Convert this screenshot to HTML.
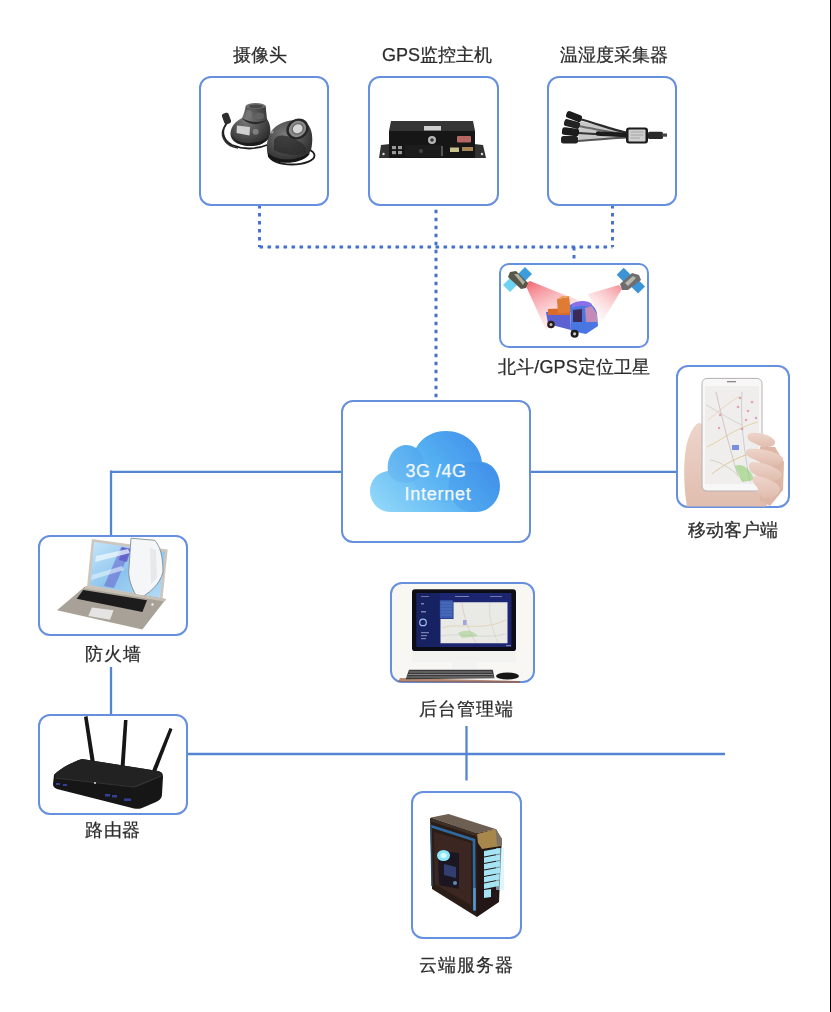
<!DOCTYPE html>
<html><head><meta charset="utf-8">
<style>
html,body{margin:0;padding:0;background:#fff;}
body{width:831px;height:1012px;position:relative;overflow:hidden;font-family:"Liberation Sans",sans-serif;}
.box{position:absolute;box-sizing:border-box;border:2.1px solid #6690de;border-radius:12px;background:#fff;}
.lbl{position:absolute;font-size:18px;color:#2c2c2c;white-space:nowrap;line-height:20px;-webkit-text-stroke:0.25px #2c2c2c;will-change:transform;}
svg.ln{position:absolute;left:0;top:0;}
.edge{position:absolute;right:0;top:0;width:1px;height:1012px;background:#000;}
.ctext{position:absolute;left:370px;width:132px;text-align:center;color:#f2f8ff;font-size:18px;line-height:22.6px;top:460px;letter-spacing:0.5px;-webkit-text-stroke:0.25px #f2f8ff;}
</style></head><body>
<svg class="ln" width="831" height="1012">
  <g stroke="#4572cc" stroke-width="3" stroke-dasharray="3.6 4.4" fill="none">
    <line x1="259.5" y1="205" x2="259.5" y2="247"/>
    <line x1="436" y1="209.7" x2="436" y2="401"/>
    <line x1="612.5" y1="205" x2="612.5" y2="247"/>
    <line x1="259.5" y1="247" x2="612.5" y2="247"/>
    <line x1="574" y1="247" x2="574" y2="264"/>
  </g>
  <g stroke="#5585d2" stroke-width="2.3" fill="none">
    <line x1="111" y1="471.8" x2="342" y2="471.8"/>
    <line x1="530" y1="471.8" x2="678" y2="471.8"/>
    <line x1="111" y1="470.5" x2="111" y2="536"/>
    <line x1="111" y1="667" x2="111" y2="715"/>
    <line x1="187" y1="754" x2="725" y2="754"/>
    <line x1="466.5" y1="726" x2="466.5" y2="780.5"/>
  </g>
</svg>
<div class="box" style="left:199.3px;top:76px;width:129.5px;height:130px"></div>
<div class="box" style="left:368.2px;top:75.8px;width:130.8px;height:130px"></div>
<div class="box" style="left:547px;top:75.8px;width:130px;height:130px"></div>
<div class="box" style="left:498.9px;top:262.9px;width:149.7px;height:85px;border-radius:10px"></div>
<div class="box" style="left:341px;top:400px;width:190px;height:143px"></div>
<div class="box" style="left:676.4px;top:365.3px;width:113.4px;height:142.6px"></div>
<div class="box" style="left:37.7px;top:534.6px;width:150.3px;height:101.6px"></div>
<div class="box" style="left:389.8px;top:582px;width:144.8px;height:101.2px;background:#f8f7f4"></div>
<div class="box" style="left:37.8px;top:713.5px;width:150.3px;height:101px"></div>
<div class="box" style="left:411.4px;top:791px;width:110.6px;height:148.2px"></div>

<svg class="ln" width="831" height="1012">
<defs>
  <filter id="soft" x="-10%" y="-10%" width="120%" height="120%"><feGaussianBlur stdDeviation="0.35"/></filter>
  <linearGradient id="cloudg" x1="0" y1="0.8" x2="1" y2="0.2">
    <stop offset="0" stop-color="#92d8f9"/>
    <stop offset="0.55" stop-color="#55b0f2"/>
    <stop offset="1" stop-color="#3c86e8"/>
  </linearGradient>
  <radialGradient id="camg" cx="0.4" cy="0.35" r="0.7">
    <stop offset="0" stop-color="#7a7a7a"/><stop offset="1" stop-color="#2a2a2a"/>
  </radialGradient>
  <radialGradient id="lensg" cx="0.45" cy="0.45" r="0.6">
    <stop offset="0" stop-color="#d8d8d8"/><stop offset="1" stop-color="#777"/>
  </radialGradient>
  <linearGradient id="beamL" x1="0" y1="0" x2="0.6" y2="1">
    <stop offset="0" stop-color="#f05a64" stop-opacity="0.95"/><stop offset="1" stop-color="#fbd0d4" stop-opacity="0.2"/>
  </linearGradient>
  <linearGradient id="beamR" x1="1" y1="0" x2="0.3" y2="1">
    <stop offset="0" stop-color="#f27a82" stop-opacity="0.85"/><stop offset="1" stop-color="#fde0e2" stop-opacity="0.15"/>
  </linearGradient>
  <linearGradient id="scrg" x1="0" y1="0" x2="1" y2="1">
    <stop offset="0" stop-color="#c7e6fa"/><stop offset="0.5" stop-color="#8cc4ee"/><stop offset="1" stop-color="#b6dcf5"/>
  </linearGradient>
  <linearGradient id="srvtop" x1="0" y1="0" x2="1" y2="1">
    <stop offset="0" stop-color="#6e5646"/><stop offset="1" stop-color="#a98a60"/>
  </linearGradient>
  <linearGradient id="skin" x1="0" y1="0" x2="0" y2="1">
    <stop offset="0" stop-color="#eed4ca"/><stop offset="1" stop-color="#e0bdae"/>
  </linearGradient>
</defs>

<!-- ===== Camera ===== -->
<g filter="url(#soft)">
  <!-- left camera cable -->
  <path d="M227 123 C221 130 222 140 232 145 C244 150 258 149 270 144" stroke="#1e1e1e" stroke-width="1.8" fill="none"/>
  <path d="M226 125 C218 134 224 146 238 148" stroke="#2a2a2a" stroke-width="1.3" fill="none"/>
  <rect x="223" y="113" width="7" height="11" rx="2" fill="#2e2e2e" transform="rotate(-20 226.5 118.5)"/>
  <path d="M245.7 106 C245 110 244 114 242 118 C236 121 231 126 230.5 133 C230 140 236 145 248 146 C260 146.5 268 142 270 135 C271 129 270 123 267 119 C266.5 114 266 110 265.7 106 Z" fill="url(#camg)"/>
  <path d="M231 135 C233 141 240 145 248 146 C260 146.5 268 142 270 135 C266 141 256 143 248 143 C240 143 234 140 231 135 Z" fill="#1c1c1c"/>
  <path d="M242 118 C250 123 262 123 267 119 C262 126 248 126 242 118 Z" fill="#2a2a2a"/>
  <ellipse cx="255.7" cy="106" rx="10" ry="3" fill="#707070"/>
  <ellipse cx="255.9" cy="106.4" rx="7" ry="1.9" fill="#4a4a4a"/>
  <ellipse cx="248.8" cy="114" rx="3" ry="4.2" fill="#7a7a7a" opacity="0.75"/>
  <ellipse cx="259.5" cy="116" rx="4.5" ry="3.3" fill="#666" opacity="0.8"/>
  <polygon points="237,125.5 250,127 249.5,135.5 236.5,133" fill="#cfcfcf"/>
  <circle cx="255.7" cy="131.8" r="3" fill="#7e7e7e"/>
  <!-- right camera -->
  <ellipse cx="292" cy="155.5" rx="22.5" ry="9" fill="none" stroke="#1c1c1c" stroke-width="1.8"/>
  <path d="M267 150 C266 140 270 130 278 125 C288 119 302 118 309 126 C313 132 313 142 311 150 C306 160 290 163 278 161 C271 159 267 155 267 150 Z" fill="url(#camg)"/>
  <path d="M267.5 152 C272 160 296 164 310 152 L309 155 C300 165 276 165 268 157 Z" fill="#121212"/>
  <path d="M274 140 C278 132 290 136 300 142 C306 146 308 150 304 154 C294 156 280 154 274 150 Z" fill="#2a2a2a" opacity="0.7"/>
  <ellipse cx="297.5" cy="129" rx="11.5" ry="10" fill="#262626" transform="rotate(-30 297.5 129)"/>
  <ellipse cx="297.5" cy="129" rx="9" ry="7.8" fill="#8a8a8a" transform="rotate(-30 297.5 129)"/>
  <ellipse cx="297.7" cy="128.8" rx="6.5" ry="5.6" fill="#6a6a6a" transform="rotate(-30 297.7 128.8)"/>
  <ellipse cx="297.7" cy="128.8" rx="5" ry="4.4" fill="#d6d6d6" transform="rotate(-30 297.7 128.8)"/>
  <circle cx="272" cy="132" r="1.5" fill="#9a9a9a"/>
</g>

<!-- ===== DVR ===== -->
<g filter="url(#soft)">
  <polygon points="381,145 390,144 390,158 379,158" fill="#333"/>
  <polygon points="474,144 483,145 486,158 474,158" fill="#333"/>
  <circle cx="383.5" cy="154" r="1.2" fill="#ddd"/>
  <circle cx="482" cy="154" r="1.2" fill="#ddd"/>
  <polygon points="391,121 473,121 475,131 389,131" fill="#343434"/>
  <rect x="389" y="131" width="86" height="27" fill="#141414"/>
  <rect x="424" y="126" width="17" height="4.5" fill="#d0d0d0"/>
  <rect x="457" y="136" width="14" height="6.5" rx="1" fill="#b86664"/>
  <circle cx="432" cy="140" r="4" fill="#b8b8b8"/>
  <circle cx="432" cy="140" r="1.8" fill="#333"/>
  <rect x="392" y="146" width="4" height="3.2" fill="#999"/>
  <rect x="398" y="146" width="4" height="3.2" fill="#999"/>
  <rect x="392" y="151" width="4" height="3.2" fill="#999"/>
  <rect x="398" y="151" width="4" height="3.2" fill="#999"/>
  <rect x="405" y="145" width="37" height="12" fill="#1f1f1f"/>
  <circle cx="421" cy="151" r="2" fill="#444"/>
  <rect x="441" y="146" width="2" height="10" fill="#555"/>
  <rect x="450" y="147.5" width="9" height="4.5" fill="#c9c28f"/>
  <rect x="462" y="147" width="11" height="4" fill="#a88458"/>
</g>

<!-- ===== Sensor cable ===== -->
<g filter="url(#soft)">
  <polygon points="580,121 628,132 628,138 578,141" fill="#c8c8c8"/>
  <g fill="none" stroke-linecap="round">
    <path d="M579 119 C596 123 612 130 628 133" stroke="#2a2a2a" stroke-width="2.2"/>
    <path d="M578 126 C596 129 612 133 628 134.5" stroke="#6a6a6a" stroke-width="2"/>
    <path d="M578 133 C596 134 612 135 628 136" stroke="#333" stroke-width="2"/>
    <path d="M577 141 C596 140 612 138 628 137.5" stroke="#555" stroke-width="2"/>
    <path d="M598 133.5 C610 134 620 135 628 135" stroke="#1e1e1e" stroke-width="4.5"/>
  </g>
  <rect x="566" y="113" width="16" height="7" rx="2.5" fill="#1a1a1a" transform="rotate(22 574 116.5)"/>
  <rect x="564" y="120.5" width="16" height="7" rx="2.5" fill="#222" transform="rotate(15 572 124)"/>
  <rect x="562" y="128" width="17" height="7.5" rx="2.5" fill="#1a1a1a" transform="rotate(7 570.5 131.7)"/>
  <rect x="561" y="136" width="17" height="7.5" rx="2.5" fill="#222" transform="rotate(0 569.5 139.7)"/>
  <rect x="626" y="127.4" width="22" height="16" rx="3" fill="#1a1a1a"/>
  <rect x="628.5" y="129.5" width="17" height="12" rx="1" fill="#d0d0d0"/>
  <g stroke="#888" stroke-width="0.6"><line x1="630.5" y1="132" x2="643.5" y2="132"/><line x1="630.5" y1="135" x2="643.5" y2="135"/><line x1="630.5" y1="138" x2="640" y2="138"/></g>
  <rect x="648" y="131.7" width="15" height="7.3" rx="1.5" fill="#2a2a2a"/>
  <rect x="662" y="133.5" width="5" height="3.2" fill="#444"/>
</g>

<!-- ===== Satellite + truck ===== -->
<g filter="url(#soft)">
  <polygon points="525,284 530,281 582,302 546,330" fill="url(#beamL)"/>
  <polygon points="622,289 619,285 588,294 602,322" fill="url(#beamR)"/>
  <!-- left satellite -->
  <polygon points="525,267 532,274 525,281 518,274" fill="#3d9ddc"/>
  <polygon points="510,278 517,285 510,292 503,285" fill="#6ed2f2"/>
  <polygon points="510,272 516,271 528,283 526,288 521,289 508,277" fill="#56564a"/>
  <polygon points="514,274 518,274 525,282 523,285" fill="#b0b0a0"/>
  <!-- right satellite -->
  <polygon points="623.7,267.8 630.7,274.8 623.7,281.8 616.7,274.8" fill="#3a94d6"/>
  <polygon points="638,279.5 645,286.5 638,293.5 631,286.5" fill="#3a94d6"/>
  <polygon points="620,284 632,273 639,275 641,280 628,290 622,290" fill="#6e6e6e"/>
  <polygon points="625,283 633,276 636,278 628,286" fill="#b8b8b0"/>
  <!-- truck -->
  <polygon points="546,312 570,311 571,330 548,324" fill="#5c62d2"/>
  <polygon points="548,309 570,308 570,315 548,315" fill="#d86a2a"/>
  <polygon points="557,299 569,297 571,312 558,314" fill="#e07a36"/>
  <polygon points="557,299 562,296 570,296 569,297" fill="#f2a060"/>
  <path d="M570 305 C574 302 580 301 585 302 C590 302 595 306 597 313 L598 326 L586 334 L571 331 Z" fill="#4a76e0"/>
  <path d="M572 304 C578 300 588 300 592 304 L590 307 C584 305 576 306 572 308 Z" fill="#8a70e8"/>
  <polygon points="573,310 582,309 582,322 573,322" fill="#3c2a58"/>
  <polygon points="585,308 592,306 597,314 597,322 586,322" fill="#c48ab8"/>
  <circle cx="551" cy="324.5" r="3.8" fill="#2a1a1a"/>
  <circle cx="551" cy="324.5" r="1.5" fill="#bbb"/>
  <circle cx="574.6" cy="333.8" r="4" fill="#1e1e1e"/>
  <circle cx="574.6" cy="333.8" r="1.6" fill="#ccc"/>
</g>

<!-- ===== Cloud ===== -->
<clipPath id="cloudclip"><path d="M391 512 C378 512 370 502 370 491 C370 480 378 472 388 471 C386 458 394 446 405 445 C410 445 413 446 416 448 C422 437 433 431 446 431 C464 431 480 444 482 462 C493 463 500 474 500 486 C500 500 490 512 476 512 Z"/></clipPath>
<g clip-path="url(#cloudclip)">
  <rect x="365" y="425" width="140" height="92" fill="url(#cloudg)"/>
  <circle cx="405" cy="464" r="19" fill="#2f7fe0" opacity="0.13"/>
  <circle cx="474" cy="487" r="25.5" fill="#2a6fe0" opacity="0.16"/>
  <circle cx="446" cy="467" r="36" fill="#4aa8f0" opacity="0.12"/>
</g>

<!-- ===== Phone in hand ===== -->
<g filter="url(#soft)">
  <path d="M686 448 C688 436 694 424 699 423 C704 423 705 430 704 440 L703 482 C712 489 740 490 766 492 C770 496 770 502 766 506.5 L687 506.5 C684 490 683 466 686 448 Z" fill="url(#skin)"/>
  <rect x="702" y="378.4" width="60" height="112.6" rx="5" fill="#f7f7f7" stroke="#b6b0ae" stroke-width="1"/>
  <rect x="705" y="386" width="54" height="98" fill="#efeeec"/>
  <rect x="727" y="381" width="9" height="1.3" fill="#888"/>
  <g stroke-width="0.8" fill="none" opacity="0.75">
    <path d="M708 420 C716 414 726 404 740 396" stroke="#e9c49a"/>
    <path d="M707 447 C720 441 735 428 758 422" stroke="#dcc070"/>
    <path d="M712 474 C722 466 738 456 756 452" stroke="#d0b060"/>
    <path d="M716 392 C722 418 728 442 738 476" stroke="#c0a8a8"/>
    <path d="M742 392 C740 420 744 450 750 482" stroke="#b0b8c8"/>
    <path d="M706 405 C716 410 730 420 742 425" stroke="#c8c0b8"/>
    <path d="M710 460 C722 462 734 470 744 482" stroke="#c8c0a8"/>
  </g>
  <g fill="#e07a90" opacity="0.65">
    <circle cx="740" cy="398" r="1.3"/><circle cx="752" cy="402" r="1.3"/><circle cx="748" cy="411" r="1.3"/>
    <circle cx="746" cy="420" r="1.3"/><circle cx="756" cy="418" r="1.3"/><circle cx="742" cy="429" r="1.3"/>
    <circle cx="738" cy="407" r="1.3"/><circle cx="720" cy="415" r="1.2"/><circle cx="719" cy="428" r="1.2"/>
  </g>
  <rect x="732" y="445" width="7" height="5" fill="#4f6fd8" opacity="0.75"/>
  <path d="M735 466 C742 462 752 470 754 480 L742 482 Z" fill="#8fcf6f" opacity="0.6"/>
  <path d="M760 447 L775 447 L784 462 L783 490 L770 506 L760 500 Z" fill="#ddb6a6"/>
  <path d="M751 433 C762 432 772 436 775 441 C776 446 770 448 762 447 L752 442 C746 440 746 434 751 433 Z" fill="url(#skin)"/>
  <path d="M749 449 C762 448 778 452 783 458 C784 464 776 466 766 465 L751 458 C745 456 744 450 749 449 Z" fill="url(#skin)"/>
  <path d="M752 462 C764 462 778 467 782 474 C782 480 774 482 764 480 L754 474 C748 471 747 463 752 462 Z" fill="url(#skin)"/>
  <path d="M755 476 C766 477 778 482 780 489 C779 496 770 500 762 498 L757 487 C752 483 751 477 755 476 Z" fill="url(#skin)"/>
</g>

<!-- ===== Laptop ===== -->
<g filter="url(#soft)">
  <polygon points="91.9,539 167.7,549.5 162.3,601 87,587" fill="#cdc6bd"/>
  <polygon points="94,542 165,552 160,598 90,585" fill="url(#scrg)"/>
  <polygon points="121,547 131,549 114,588 104,586" fill="#6a6ad0" opacity="0.6"/>
  <polygon points="122,547 131,549 127,562 119,560" fill="#5a50c8" opacity="0.7"/>
  <polygon points="96,556 128,549 130,553 95,562" fill="#eef8fe" opacity="0.75"/>
  <polygon points="92,575 122,566 124,570 91,580" fill="#e4f4fc" opacity="0.6"/>
  <path d="M131 538.2 L154.7 540.3 C160 546 163 556 163 572 C160 585 148 594 138.5 599 C133 591 129 582 128.7 572 Z" fill="#f5f6f7" stroke="#7a8c98" stroke-width="0.9"/>
  <path d="M150 548 L156 550 L157 578 L151 584 Z" fill="#e6e8ea"/>
  <polygon points="85,586.5 166,599 142.4,629.5 57,610.3" fill="#a8a197"/>
  <polygon points="86,586 166,599 165,601.5 84,588.5" fill="#c6c0b6"/>
  <polygon points="83.2,590.1 147,600.2 142.4,612 76.7,598.8" fill="#1c1a1c"/>
  <polygon points="91.9,607.4 113.5,610.3 110,619.7 88.3,616.1" fill="#e6e4e2"/>
  <circle cx="152.5" cy="604.5" r="1.2" fill="#eee"/>
</g>

<!-- ===== Monitor ===== -->
<g filter="url(#soft)">
  <rect x="412" y="589.2" width="104" height="62" rx="3" fill="#0c0c14"/>
  <rect x="416.5" y="593" width="95" height="54" fill="#1b2570"/>
  <rect x="416.5" y="593" width="23" height="54" fill="#182262"/>
  <g fill="#c8d0f0" opacity="0.55">
    <rect x="421" y="596" width="8" height="0.9"/><rect x="455" y="596" width="14" height="1"/><rect x="490" y="596" width="12" height="0.9"/>
    <rect x="421" y="603" width="3" height="1.5"/><rect x="421" y="611" width="5" height="1.5"/>
    <rect x="421" y="632" width="8" height="1.2"/><rect x="421" y="635" width="6" height="1.2"/><rect x="421" y="638" width="5" height="1.2"/>
    <rect x="506" y="645" width="5" height="1.2"/>
  </g>
  <circle cx="423" cy="622.4" r="3.3" fill="none" stroke="#a6b8f2" stroke-width="1.2"/>
  <rect x="439.9" y="600.3" width="13" height="18.2" fill="#3a5cb0"/>
  <g stroke="#6a88cc" stroke-width="0.5">
    <line x1="441" y1="603" x2="452" y2="603"/><line x1="441" y1="606" x2="452" y2="606"/><line x1="441" y1="609" x2="452" y2="609"/><line x1="441" y1="612" x2="452" y2="612"/><line x1="441" y1="615" x2="452" y2="615"/>
  </g>
  <polygon points="453.5,602.2 507.5,602.2 507.5,643.2 440.5,643.2 440.5,619.1 453.5,619.1" fill="#e9e9e5"/>
  <g stroke-width="0.6" fill="none" opacity="0.6">
    <path d="M442 628 C458 622 482 632 506 620" stroke="#d8b070"/>
    <path d="M462 603 C464 620 470 632 476 643" stroke="#d4a0a0"/>
    <path d="M441 636 C460 632 482 640 506 634" stroke="#b8b8c8"/>
    <path d="M490 603 C488 615 492 628 498 643" stroke="#c8c0a0"/>
  </g>
  <rect x="463" y="620" width="3.5" height="5" fill="#6a78d8" opacity="0.6"/>
  <path d="M458 633 C466 629 474 631 478 636 L462 638 Z" fill="#9cd08a" opacity="0.55"/>
  <rect x="412.5" y="651" width="103" height="11" fill="#f2f2f0"/>
  <rect x="452" y="662" width="25" height="7" fill="#f3f3f1"/>
  <polygon points="400,678 520,681 520,683 398,682" fill="#9a5a38" opacity="0.7"/>
  <polygon points="409,669.8 492.8,669.8 494.5,678.3 405.7,679.2" fill="#3a3a3a"/>
  <g stroke="#a0a0a0" stroke-width="0.8" opacity="0.9">
    <line x1="409" y1="672" x2="492" y2="672"/><line x1="408" y1="674.5" x2="493" y2="674.5"/><line x1="407" y1="677" x2="494" y2="677"/>
  </g>
  <ellipse cx="507.5" cy="676" rx="11.5" ry="3.6" fill="#151515"/>
</g>

<!-- ===== Router ===== -->
<g filter="url(#soft)">
  <polygon points="84,717 87.5,716 95,763 91,764" fill="#141414"/>
  <polygon points="124,720 127.5,720 124.5,768 120.5,768" fill="#141414"/>
  <polygon points="169.5,728 172.5,729 156,772 152,771" fill="#141414"/>
  <path d="M54 775 C58 770 72 762 82 759 L158 771 C162 772 163 774 163 777 L162 794 C162 798 160 800 156 802 L142 808 C139 809 137 809 134 808.5 L57 789 C54 788 53 786 53 784 Z" fill="#181818"/>
  <path d="M54 775 C58 770 72 762 82 759 L158 771 C162 772 163 774 162 776 L140 786 C138 787 136 787 134 786.5 L57 778 Z" fill="#242424"/>
  <path d="M55 778 L134 787 L161 776" stroke="#3a3a3a" stroke-width="0.8" fill="none"/>
  <circle cx="95" cy="783" r="1" fill="#ddd"/>
  <g fill="#3548b0" opacity="0.85">
    <rect x="56" y="783" width="4" height="2"/><rect x="63" y="784" width="4" height="2"/>
    <rect x="105" y="794" width="5" height="2.5"/><rect x="112" y="795" width="5" height="2.5"/><rect x="124" y="798.5" width="7" height="2.5"/>
  </g>
</g>

<!-- ===== Server ===== -->
<g filter="url(#soft)">
  <!-- side panel -->
  <polygon points="430,818 477,833 477,917 432,889" fill="#2c1f19"/>
  <!-- front face -->
  <polygon points="477,833 496,829 502,840 501.5,846 499,902 477,917" fill="#221712"/>
  <!-- top face -->
  <polygon points="431,817.5 448.5,814 495.6,828.9 476,833.5" fill="#6e5e52"/>
  <polygon points="431,817.5 476,833.5 477,836.5 431,821.5" fill="#3e2e26"/>
  <!-- golden corner -->
  <polygon points="477,834 495.6,829 502,839 501,846 482,849 478,843" fill="#a8874e"/>
  <polygon points="495.6,829 502,839 501,846 497,845" fill="#7a7268"/>
  <!-- blue trim frame -->
  <path d="M430.5 826 L474 840 L474.5 911" stroke="#2f6aa0" stroke-width="2.6" fill="none"/>
  <path d="M431 826 L432 886" stroke="#2a4a6a" stroke-width="1.5" fill="none"/>
  <path d="M474.5 888 L474.5 910" stroke="#5a9ad0" stroke-width="2.4" fill="none"/>
  <!-- inner side panel -->
  <polygon points="434,832 471,843 471,905 435,884" fill="#3a2820"/>
  <!-- window -->
  <polygon points="438,851 459,853 459,889 439,885" fill="#1a1620"/>
  <polygon points="444,864 456,867 456,878 444,875" fill="#3a4a8a" opacity="0.75"/>
  <circle cx="455" cy="883" r="2" fill="#6fa8d8" opacity="0.8"/>
  <ellipse cx="443.5" cy="855.5" rx="6.5" ry="5.5" fill="#8ae6f8"/>
  <ellipse cx="443.5" cy="855.5" rx="3" ry="2.5" fill="#d8fbff"/>
  <!-- fins -->
  <rect x="496" y="848" width="8" height="42" fill="#c4f0fa" opacity="0.55"/>
  <g fill="#a4e4f4">
    <polygon points="484,851 500,848 500,853.5 484,856.5"/>
    <polygon points="484,857.5 500,854.5 500,860 484,863"/>
    <polygon points="484,864 500,861 500,866.5 484,869.5"/>
    <polygon points="484,870.5 500,867.5 500,873 484,876"/>
    <polygon points="484,877 499.5,874 499.5,879.5 484,882.5"/>
    <polygon points="484,883.5 499,880.5 499,886 484,889"/>
    <polygon points="484,890 491,889 491,897 484,898"/>
  </g>
</g>
</svg>

<div class="ctext">3G /4G</div><div class="ctext" style="top:482.6px;left:372px;letter-spacing:0.75px">Internet</div>

<div class="lbl" style="left:233px;top:45px">摄像头</div>
<div class="lbl" style="left:382px;top:45px">GPS监控主机</div>
<div class="lbl" style="left:560px;top:45px">温湿度采集器</div>
<div class="lbl" style="left:497.5px;top:356.5px;letter-spacing:0.15px">北斗/GPS定位卫星</div>
<div class="lbl" style="left:688px;top:520px">移动客户端</div>
<div class="lbl" style="left:85px;top:644px;letter-spacing:0.8px">防火墙</div>
<div class="lbl" style="left:419px;top:699px;letter-spacing:1.1px">后台管理端</div>
<div class="lbl" style="left:85px;top:820px;letter-spacing:0.6px">路由器</div>
<div class="lbl" style="left:419px;top:955px;letter-spacing:1.1px">云端服务器</div>
<div class="edge"></div>
</body></html>
